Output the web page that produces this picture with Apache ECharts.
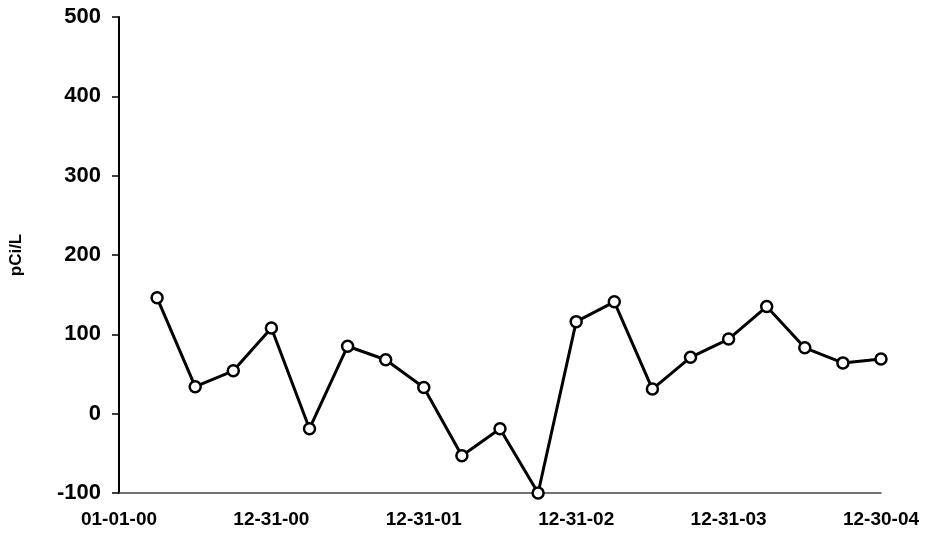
<!DOCTYPE html>
<html>
<head>
<meta charset="utf-8">
<script src="https://cdn.jsdelivr.net/npm/echarts@6/dist/echarts.min.js"></script>
<style>
html,body{margin:0;padding:0;background:#fff;}
#chart{width:925px;height:533px;}
</style>
</head>
<body>
<div id="chart"></div>
<script>
// Sample index positions (quarterly samples), index 0 = 01-01-00
const sampleIndex = [1,2,3,4,5,6,7,8,9,10,11,12,13,14,15,16,17,18,19,20];
const values = [146,34,54,108,-19,85,68,33,-53,-19,-100,116,141,31,71,94,135,83,64,69];
const xTickLabels = ['01-01-00','12-31-00','12-31-01','12-31-02','12-31-03','12-30-04'];
const yTicks = [-100,0,100,200,300,400,500];

const data = sampleIndex.map((x, i) => [x, values[i]]);
const chart = echarts.init(document.getElementById('chart'), null, {renderer: 'canvas'});
const fam = 'Liberation Sans, Arial, sans-serif';

chart.setOption({
  backgroundColor: '#fff',
  animation: false,
  grid: {left: 111, right: 44, top: 17, bottom: 40, containLabel: false},
  xAxis: {
    type: 'value', min: 0, max: 20, interval: 4,
    axisLine: {show: true, onZero: false, lineStyle: {color: '#444', width: 1.5}},
    axisTick: {show: false},
    splitLine: {show: false},
    axisLabel: {
      fontFamily: fam, fontWeight: 'bold', fontSize: 19, color: '#000',
      margin: 17,
      formatter: function (v) {
        const k = Math.round(v / 4);
        return Math.abs(v / 4 - k) < 1e-6 ? (xTickLabels[k] || '') : '';
      }
    }
  },
  yAxis: {
    type: 'value', min: yTicks[0], max: yTicks[yTicks.length - 1], interval: 100,
    name: 'pCi/L', nameLocation: 'middle', nameGap: 94, nameRotate: 90,
    nameTextStyle: {fontFamily: fam, fontWeight: 'bold', fontSize: 17, color: '#000'},
    axisLine: {show: true, lineStyle: {color: '#000', width: 2}},
    axisTick: {show: true, inside: false, length: 7, lineStyle: {color: '#000', width: 1.5}},
    splitLine: {show: false},
    axisLabel: {fontFamily: fam, fontWeight: 'bold', fontSize: 22, color: '#000', margin: 18}
  },
  series: [{
    type: 'line',
    data: data,
    symbol: 'circle',
    symbolSize: 11,
    lineStyle: {color: '#000', width: 3},
    itemStyle: {color: '#fff', borderColor: '#000', borderWidth: 2.5},
    z: 5
  }]
});
</script>
</body>
</html>
